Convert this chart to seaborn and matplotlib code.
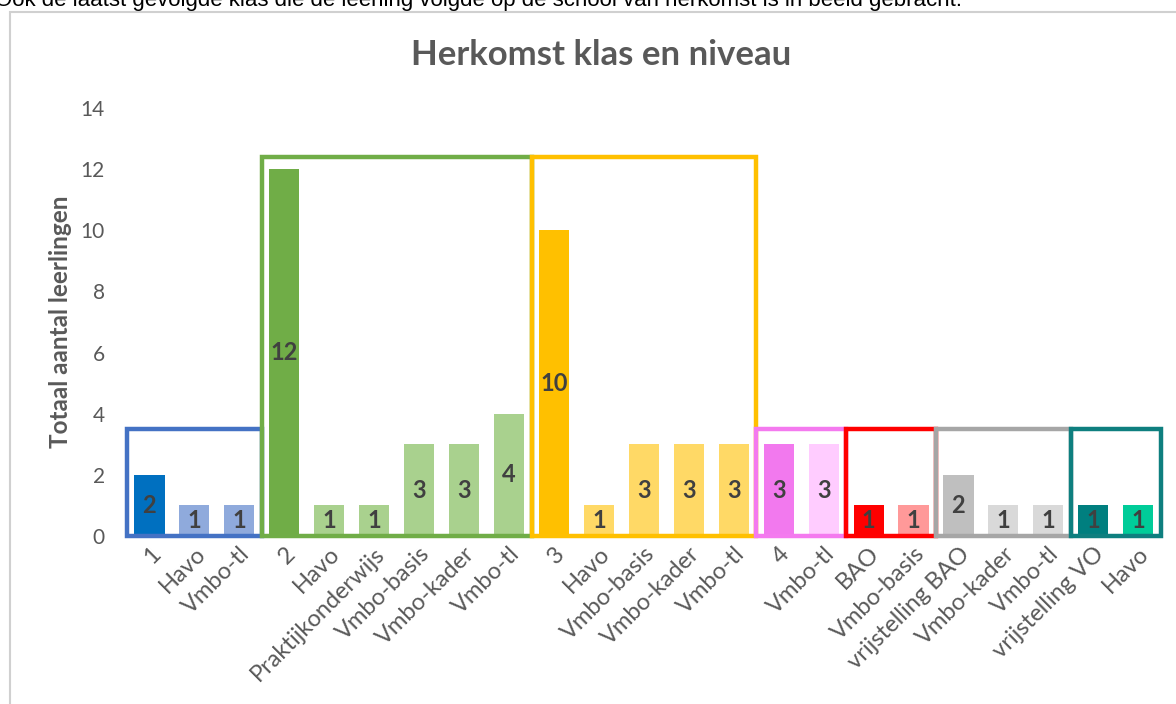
import pandas as pd
import matplotlib.pyplot as plt
import matplotlib.patches as mpatches
import seaborn as sns

# data
groups = ['1', '2', '3', '4', 'BAO', 'vrijstelling BAO', 'vrijstelling VO']
group_labels = [
    ['1', 'Havo', 'Vmbo-tl'],
    ['2', 'Havo', 'Praktijkonderwijs', 'Vmbo-basis', 'Vmbo-kader', 'Vmbo-tl'],
    ['3', 'Havo', 'Vmbo-basis', 'Vmbo-kader', 'Vmbo-tl'],
    ['4', 'Vmbo-tl'],
    ['BAO', 'Vmbo-basis'],
    ['vrijstelling BAO', 'Vmbo-kader', 'Vmbo-tl'],
    ['vrijstelling VO', 'Havo'],
]
group_values = [
    [2, 1, 1],
    [12, 1, 1, 3, 3, 4],
    [10, 1, 3, 3, 3],
    [3, 3],
    [1, 1],
    [2, 1, 1],
    [1, 1],
]
# colour of the group total bar, the sub bars and the box
group_main = ['#0070C0', '#70AD47', '#FFC000', '#F279EE', '#FF0000', '#BFBFBF', '#007F7F']
group_sub = ['#8FAADC', '#A9D18E', '#FFD966', '#FFCCFF', '#FF9999', '#D9D9D9', '#00CC99']
group_box = ['#4472C4', '#70AD47', '#FFC000', '#F47AEF', '#FF0000', '#A6A6A6', '#0E7F7F']

rows = []
for g, labels, vals, c_main, c_sub in zip(groups, group_labels, group_values, group_main, group_sub):
    for k, (lab, v) in enumerate(zip(labels, vals)):
        rows.append({'group': g, 'label': lab, 'value': v,
                     'color': c_main if k == 0 else c_sub})
df = pd.DataFrame(rows)
df['pos'] = [str(i) for i in range(len(df))]

fig = plt.figure(figsize=(11.76, 7.04), dpi=100)
ax = fig.add_axes([0.108, 0.2386, 0.879, 0.608])

sns.barplot(data=df, x='pos', y='value', hue='pos', palette=list(df['color']),
            legend=False, width=0.67, ax=ax, saturation=1)

for cont in ax.containers:
    ax.bar_label(cont, label_type='center', fontsize=17, fontweight='bold',
                 color='#404040', family='Lato')

# boxes around each group: low boxes for small groups, tall ones for the big groups
big_top = df['value'].max() + 0.4
start = 0
for vals, col in zip(group_values, group_box):
    n = len(vals)
    top = big_top if max(vals) > 4 else 3.5
    rect = mpatches.Rectangle((start - 0.5, 0), n, top, fill=False, edgecolor=col,
                              linewidth=3.2, clip_on=False, zorder=5)
    ax.add_patch(rect)
    start += n

ax.set_xlim(-0.5, len(df) - 0.5)
ax.set_ylim(0, 14)
ax.set_yticks(range(0, 15, 2))
ax.set_xticks(range(len(df)))
ax.set_xticklabels(df['label'], rotation=45, ha='right', rotation_mode='anchor',
                   fontsize=17, color='#595959', family='Lato')
for t in ax.get_yticklabels():
    t.set_fontsize(15)
    t.set_color('#595959')
    t.set_family('Lato')
ax.tick_params(axis='both', length=0)
ax.tick_params(axis='x', pad=5)
ax.tick_params(axis='y', pad=16)
for s in ax.spines.values():
    s.set_visible(False)
ax.set_xlabel('')
ax.set_ylabel('Totaal aantal leerlingen', fontsize=17.5, fontweight='bold',
              color='#595959', family='Lato', labelpad=6)

fig.text(0.511, 0.922, 'Herkomst klas en niveau', ha='center', va='center',
         fontsize=25, fontweight='bold', color='#595959', family='Lato')

# partially visible sentence above the chart and the chart frame
fig.text(-0.004, 0.9915, 'Ook de laatst gevolgde klas die de leerling volgde op de school van herkomst is in beeld gebracht.',
         ha='left', va='baseline', fontsize=16, color='black', family='Liberation Sans')
fig.patches.append(mpatches.Rectangle((10 / 1176, -0.1), 1.2, 1.1 - 12 / 704, fill=False,
                                      edgecolor='#D0D0D0', linewidth=1.5,
                                      transform=fig.transFigure, figure=fig))

fig.savefig('out.png', dpi=100)
